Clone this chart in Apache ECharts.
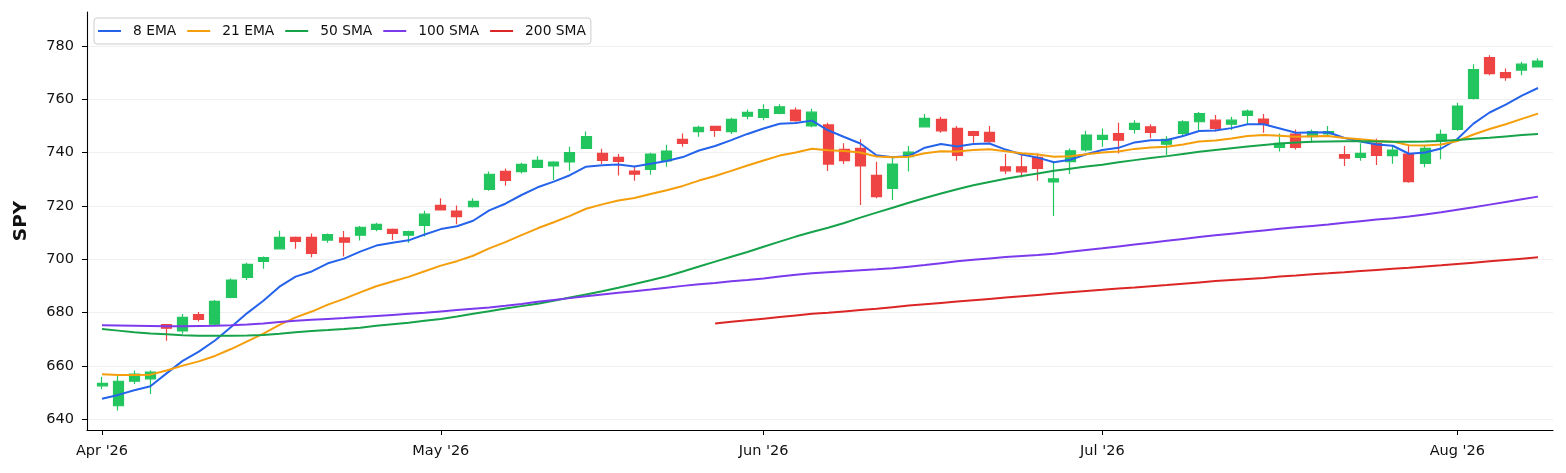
<!DOCTYPE html>
<html>
<head>
<meta charset="utf-8">
<title>SPY</title>
<script src="https://cdn.jsdelivr.net/npm/echarts@6/dist/echarts.min.js"></script>
<style>
  html, body { margin: 0; padding: 0; background: #fff; }
  #chart { width: 1566px; height: 473px; }
</style>
</head>
<body>
<div id="chart"></div>
<script>
// trading days, Apr 1 - Aug 10 2026
var dates = [
  '2026-04-01','2026-04-02','2026-04-06','2026-04-07','2026-04-08','2026-04-09','2026-04-10',
  '2026-04-13','2026-04-14','2026-04-15','2026-04-16','2026-04-17','2026-04-20','2026-04-21',
  '2026-04-22','2026-04-23','2026-04-24','2026-04-27','2026-04-28','2026-04-29','2026-04-30',
  '2026-05-01','2026-05-04','2026-05-05','2026-05-06','2026-05-07','2026-05-08','2026-05-11',
  '2026-05-12','2026-05-13','2026-05-14','2026-05-15','2026-05-18','2026-05-19','2026-05-20',
  '2026-05-21','2026-05-22','2026-05-26','2026-05-27','2026-05-28','2026-05-29',
  '2026-06-01','2026-06-02','2026-06-03','2026-06-04','2026-06-05','2026-06-08','2026-06-09',
  '2026-06-10','2026-06-11','2026-06-12','2026-06-15','2026-06-16','2026-06-17','2026-06-18',
  '2026-06-22','2026-06-23','2026-06-24','2026-06-25','2026-06-26','2026-06-29','2026-06-30',
  '2026-07-01','2026-07-02','2026-07-06','2026-07-07','2026-07-08','2026-07-09','2026-07-10',
  '2026-07-13','2026-07-14','2026-07-15','2026-07-16','2026-07-17','2026-07-20','2026-07-21',
  '2026-07-22','2026-07-23','2026-07-24','2026-07-27','2026-07-28','2026-07-29','2026-07-30',
  '2026-07-31','2026-08-03','2026-08-04','2026-08-05','2026-08-06','2026-08-07','2026-08-10'
];

var opens = [
  652.5, 645.0, 654.2, 655.1, 675.5, 673.1, 679.2, 675.6, 685.7, 693.2,
  699.2, 703.9, 708.2, 708.2, 707.2, 708.0, 709.0, 711.2, 711.2, 709.0,
  712.7, 720.2, 718.1, 719.7, 726.2, 733.0, 732.9, 734.5, 735.0, 736.5,
  741.6, 739.7, 738.2, 733.1, 733.7, 736.9, 745.0, 747.9, 749.9, 747.9,
  753.7, 753.2, 754.7, 756.0, 750.0, 750.4, 741.2, 741.6, 731.5, 726.6,
  738.5, 749.7, 752.5, 749.1, 747.9, 747.6, 734.7, 734.7, 738.2, 729.0,
  736.6, 741.0, 745.0, 747.2, 748.7, 749.7, 743.2, 747.2, 751.6, 752.2,
  750.7, 754.0, 752.6, 742.0, 747.0, 746.0, 747.0, 739.3, 738.2, 743.5,
  738.9, 739.5, 736.0, 744.5, 748.7, 760.4, 775.7, 770.1, 771.0, 772.2
];
var closes = [
  653.4, 654.2, 656.9, 657.6, 674.1, 678.2, 677.4, 684.2, 692.2, 698.1,
  700.6, 708.2, 706.7, 702.2, 709.2, 706.4, 712.0, 713.1, 709.7, 710.4,
  716.9, 718.5, 716.0, 721.7, 731.9, 729.6, 735.6, 737.1, 736.5, 740.0,
  746.0, 737.1, 736.7, 731.9, 739.5, 740.6, 743.5, 749.5, 748.4, 752.5,
  755.1, 756.2, 757.2, 752.0, 755.2, 735.7, 737.0, 735.0, 723.5, 735.7,
  740.2, 752.9, 748.2, 739.0, 746.5, 744.1, 733.2, 732.8, 734.1, 730.2,
  740.7, 746.6, 746.5, 744.7, 751.0, 747.6, 745.0, 751.6, 754.7, 749.1,
  752.2, 755.6, 750.7, 743.5, 742.0, 747.9, 747.9, 737.9, 739.7, 739.0,
  741.0, 729.1, 741.6, 746.9, 757.5, 771.2, 769.7, 768.2, 773.2, 774.4
];
var highs = [
  655.9, 656.2, 658.2, 658.2, 675.7, 679.4, 680.2, 684.7, 692.8, 698.7,
  701.0, 710.7, 708.5, 709.7, 709.7, 710.6, 712.5, 713.7, 711.5, 710.7,
  718.2, 722.9, 720.2, 722.9, 732.9, 734.1, 736.2, 738.7, 736.8, 742.2,
  747.9, 741.5, 739.5, 735.0, 740.0, 743.0, 747.2, 750.1, 750.1, 753.1,
  756.2, 758.2, 758.2, 757.0, 756.5, 751.2, 743.5, 745.0, 736.6, 737.9,
  742.5, 754.5, 753.5, 750.0, 748.2, 750.0, 739.5, 739.1, 739.7, 736.6,
  741.6, 748.2, 749.1, 751.2, 752.2, 750.7, 746.2, 752.2, 755.3, 754.1,
  753.5, 756.2, 754.5, 747.2, 748.7, 748.7, 750.0, 742.5, 743.5, 745.2,
  742.5, 742.5, 742.5, 748.7, 758.7, 773.2, 776.6, 771.6, 774.1, 775.4
];
var lows = [
  651.2, 643.2, 653.2, 649.4, 669.4, 672.0, 676.6, 675.2, 685.4, 692.2,
  696.4, 703.9, 703.9, 700.7, 706.2, 701.0, 707.0, 710.5, 707.2, 706.2,
  708.5, 718.3, 713.1, 719.4, 725.7, 727.6, 732.2, 734.4, 729.7, 733.2,
  741.5, 735.7, 731.4, 729.5, 731.7, 734.7, 742.2, 746.0, 746.0, 747.0,
  752.5, 752.2, 754.4, 751.6, 749.5, 733.1, 735.7, 720.4, 722.9, 722.2,
  732.9, 749.5, 747.5, 737.0, 743.7, 743.7, 732.0, 730.7, 729.5, 716.2,
  732.0, 740.4, 742.2, 739.7, 747.2, 745.4, 739.1, 746.0, 748.5, 747.9,
  748.5, 750.7, 747.5, 740.4, 741.2, 743.7, 746.2, 735.0, 737.0, 735.4,
  735.8, 728.7, 734.5, 737.5, 748.2, 760.0, 769.1, 767.0, 769.1, 772.0
];

var ema8 = [
  647.6, 649.07, 650.81, 652.32, 657.16, 661.84, 665.30, 669.50, 674.54, 679.78,
  684.41, 689.70, 693.48, 695.42, 698.48, 700.24, 702.85, 705.13, 706.15, 707.09,
  709.27, 711.32, 712.36, 714.44, 718.32, 720.83, 724.11, 727.00, 729.11, 731.53,
  734.75, 735.27, 735.59, 734.77, 735.82, 736.88, 738.35, 740.83, 742.51, 744.73,
  747.03, 749.07, 750.88, 751.13, 752.03, 748.40, 745.87, 743.45, 739.02, 738.28,
  738.71, 741.86, 743.27, 742.32, 743.25, 743.44, 741.16, 739.30, 738.14, 736.38,
  737.34, 739.40, 740.98, 741.81, 743.85, 744.68, 744.75, 746.27, 748.14, 748.35,
  749.21, 750.63, 750.65, 749.06, 747.49, 747.58, 747.65, 745.48, 744.20, 743.04,
  742.59, 739.59, 740.04, 741.56, 745.10, 750.90, 755.08, 758.00, 761.38, 764.27
];
var ema21 = [
  656.8, 656.56, 656.59, 656.68, 658.26, 660.07, 661.65, 663.70, 666.29, 669.18,
  672.04, 675.33, 678.18, 680.36, 682.98, 685.11, 687.55, 689.87, 691.67, 693.37,
  695.51, 697.60, 699.27, 701.31, 704.09, 706.41, 709.06, 711.61, 713.87, 716.25,
  718.95, 720.60, 722.06, 722.95, 724.45, 725.92, 727.52, 729.52, 731.24, 733.17,
  735.16, 737.07, 738.90, 740.09, 741.46, 740.94, 740.58, 740.07, 738.56, 738.30,
  738.47, 739.78, 740.55, 740.41, 740.96, 741.25, 740.52, 739.82, 739.30, 738.47,
  738.67, 739.39, 740.04, 740.46, 741.42, 741.98, 742.25, 743.10, 744.15, 744.60,
  745.29, 746.23, 746.64, 746.35, 745.95, 746.13, 746.29, 745.53, 745.00, 744.45,
  744.14, 742.77, 742.66, 743.05, 744.36, 746.80, 748.88, 750.64, 752.69, 754.66
];
var sma50 = [
  673.8, 673.2, 672.6, 672.1, 671.8, 671.5, 671.3, 671.3, 671.3, 671.4,
  671.6, 672.0, 672.6, 673.1, 673.4, 673.8, 674.3, 675.0, 675.6, 676.2,
  676.9, 677.6, 678.5, 679.5, 680.5, 681.5, 682.4, 683.3, 684.4, 685.6,
  686.8, 688.0, 689.3, 690.7, 692.1, 693.6, 695.4, 697.3, 699.1, 700.9,
  702.7, 704.7, 706.6, 708.5, 710.2, 711.8, 713.6, 715.6, 717.5, 719.3,
  721.2, 723.0, 724.7, 726.3, 727.8, 729.0, 730.2, 731.2, 732.2, 733.2,
  734.0, 734.8, 735.5, 736.4, 737.2, 738.0, 738.7, 739.5, 740.3, 741.0,
  741.7, 742.3, 742.9, 743.4, 743.8, 744.1, 744.2, 744.3, 744.3, 744.2,
  744.1, 744.1, 744.2, 744.4, 744.8, 745.2, 745.6, 746.1, 746.6, 747.0
];
var sma100 = [
  675.2, 675.1, 675.0, 674.9, 674.8, 674.8, 674.9, 675.0, 675.2, 675.5,
  675.9, 676.4, 676.9, 677.3, 677.6, 677.9, 678.3, 678.7, 679.1, 679.5,
  679.9, 680.4, 680.9, 681.4, 681.9, 682.5, 683.2, 684.0, 684.7, 685.4,
  686.1, 686.8, 687.4, 688.0, 688.6, 689.3, 690.0, 690.6, 691.1, 691.7,
  692.2, 692.8, 693.5, 694.2, 694.7, 695.1, 695.5, 695.9, 696.2, 696.6,
  697.2, 697.8, 698.5, 699.2, 699.8, 700.3, 700.8, 701.2, 701.6, 702.1,
  702.8, 703.5, 704.1, 704.8, 705.5, 706.2, 706.9, 707.6, 708.3, 709.0,
  709.6, 710.2, 710.8, 711.4, 712.0, 712.5, 713.0, 713.7, 714.3, 714.9,
  715.4, 716.0, 716.8, 717.6, 718.6, 719.5, 720.5, 721.5, 722.5, 723.5
];
// 200 SMA only exists from the 39th session on
var sma200Start = 38;
var sma200 = [
  675.9, 676.5, 677.1, 677.7, 678.3, 678.9, 679.5, 679.9, 680.4, 680.9,
  681.4, 682.0, 682.6, 683.1, 683.6, 684.1, 684.6, 685.1, 685.6, 686.1,
  686.6, 687.1, 687.6, 688.1, 688.5, 689.0, 689.4, 689.9, 690.3, 690.8,
  691.3, 691.8, 692.2, 692.6, 693.0, 693.5, 693.9, 694.4, 694.7, 695.1,
  695.6, 696.0, 696.4, 696.8, 697.3, 697.7, 698.2, 698.7, 699.2, 699.7,
  700.2, 700.7
];

var yTicks = [640, 660, 680, 700, 720, 740, 760, 780];
var monthNames = ['Jan', 'Feb', 'Mar', 'Apr', 'May', 'Jun', 'Jul', 'Aug', 'Sep', 'Oct', 'Nov', 'Dec'];

// first session of each month gets a tick
var xTicks = [];
var xTickLabels = {};
dates.forEach(function (d, i) {
  if (i === 0 || d.slice(5, 7) !== dates[i - 1].slice(5, 7)) {
    xTicks.push(i);
    xTickLabels[i] = monthNames[+d.slice(5, 7) - 1] + " '" + d.slice(2, 4);
  }
});

var candles = dates.map(function (d, i) {
  return [i, opens[i], closes[i], lows[i], highs[i]];
});
function pts(arr, start) {
  start = start || 0;
  return arr.map(function (v, i) { return [i + start, v]; });
}

var colors = {
  up: '#22c55e',
  down: '#ef4444',
  ema8: '#2563eb',
  ema21: '#f59e0b',
  sma50: '#16a34a',
  sma100: '#7c3aed',
  sma200: '#dc2626'
};
var font = 'DejaVu Sans';

function lineSeries(name, data, color) {
  return {
    name: name,
    type: 'line',
    data: data,
    showSymbol: false,
    symbol: 'none',
    smooth: false,
    z: 5,
    lineStyle: { color: color, width: 2 },
    itemStyle: { color: color }
  };
}

var chart = echarts.init(document.getElementById('chart'), null, { renderer: 'canvas' });

chart.setOption({
  animation: false,
  backgroundColor: '#fff',
  textStyle: { fontFamily: font },
  grid: { left: 87, right: 13, top: 12, bottom: 43 },
  legend: {
    data: ['8 EMA', '21 EMA', '50 SMA', '100 SMA', '200 SMA'],
    left: 94,
    top: 18,
    padding: [6, 5, 6, 4],
    itemWidth: 23,
    itemHeight: 2,
    itemGap: 11,
    icon: 'rect',
    backgroundColor: '#fff',
    borderColor: '#cccccc',
    borderWidth: 1,
    borderRadius: 3,
    textStyle: { fontFamily: font, fontSize: 13.8, color: '#111', padding: [0, 0, 0, 7] }
  },
  xAxis: {
    type: 'value',
    min: -0.93,
    max: 89.93,
    axisLine: { show: true, onZero: false, lineStyle: { color: '#000', width: 1.1 } },
    axisTick: { show: true, length: 5, customValues: xTicks, lineStyle: { color: '#000', width: 1 } },
    axisLabel: {
      customValues: xTicks,
      margin: 14,
      fontFamily: font,
      fontSize: 14.5,
      color: '#111',
      formatter: function (v) { return xTickLabels[Math.round(v)] || ''; }
    },
    splitLine: { show: false }
  },
  yAxis: {
    type: 'value',
    min: 635.9,
    max: 792.8,
    name: 'SPY',
    nameLocation: 'middle',
    nameGap: 56,
    nameTextStyle: { fontFamily: font, fontSize: 18.5, fontWeight: 'bold', color: '#111' },
    axisLine: { show: true, onZero: false, lineStyle: { color: '#000', width: 1.1 } },
    axisTick: { show: true, length: 5, customValues: yTicks, lineStyle: { color: '#000', width: 1 } },
    axisLabel: {
      customValues: yTicks,
      margin: 13,
      fontFamily: font,
      fontSize: 14.5,
      color: '#111'
    },
    splitLine: { show: true, lineStyle: { color: '#ebebeb', width: 0.8 } }
  },
  series: [
    {
      name: 'SPY',
      type: 'candlestick',
      data: candles,
      encode: { x: 0, y: [1, 2, 3, 4] },
      barWidth: 10.5,
      z: 3,
      itemStyle: {
        color: colors.up,
        color0: colors.down,
        borderColor: colors.up,
        borderColor0: colors.down,
        borderWidth: 1.2
      }
    },
    lineSeries('8 EMA', pts(ema8), colors.ema8),
    lineSeries('21 EMA', pts(ema21), colors.ema21),
    lineSeries('50 SMA', pts(sma50), colors.sma50),
    lineSeries('100 SMA', pts(sma100), colors.sma100),
    lineSeries('200 SMA', pts(sma200, sma200Start), colors.sma200)
  ]
});
</script>
</body>
</html>
